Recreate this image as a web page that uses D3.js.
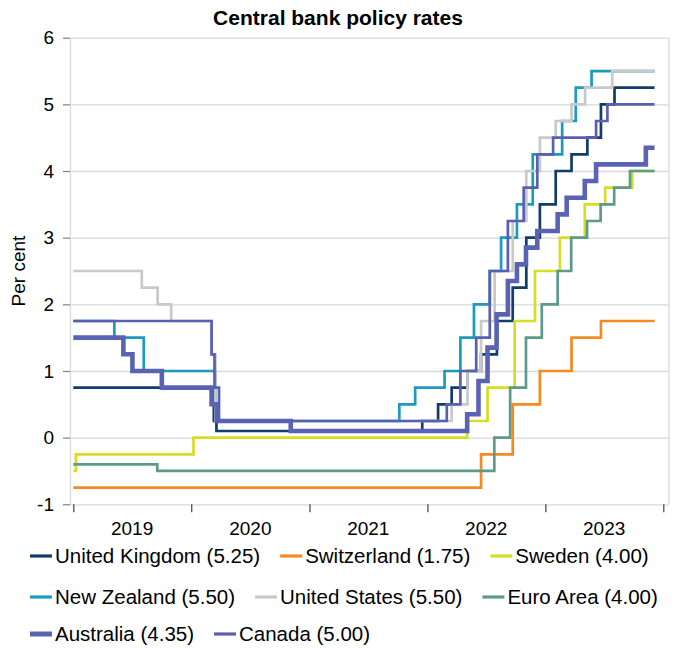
<html>
<head>
<meta charset="utf-8">
<script src="https://d3js.org/d3.v7.min.js"></script>
<style>
    body { margin: 0; background: #fff; }
    text { font-family: 'Liberation Sans', Arial, sans-serif; fill: #000; }
</style>
</head>
<body>
<div id="chart"></div>
<script>
    // policy rate steps: [date the new rate applies, rate in per cent]
    var unitedKingdom = [["2019-01-01",0.75],["2020-03-11",0.25],["2020-03-19",0.1],["2021-12-16",0.25],["2022-02-03",0.5],["2022-03-17",0.75],["2022-05-05",1.0],["2022-06-16",1.25],["2022-08-04",1.75],["2022-09-22",2.25],["2022-11-03",3.0],["2022-12-15",3.5],["2023-02-02",4.0],["2023-03-23",4.25],["2023-05-11",4.5],["2023-06-22",5.0],["2023-08-03",5.25],["2023-12-05",5.25]];
    var switzerland = [["2019-01-01",-0.75],["2022-06-16",-0.25],["2022-09-22",0.5],["2022-12-15",1.0],["2023-03-23",1.5],["2023-06-22",1.75],["2023-12-05",1.75]];
    var sweden = [["2019-01-01",-0.5],["2019-01-09",-0.25],["2020-01-08",0],["2022-05-04",0.25],["2022-07-06",0.75],["2022-09-28",1.75],["2022-11-30",2.5],["2023-02-15",3.0],["2023-05-03",3.5],["2023-07-05",3.75],["2023-09-27",4.0],["2023-12-05",4.0]];
    var newZealand = [["2019-01-01",1.75],["2019-05-08",1.5],["2019-08-07",1.0],["2020-03-16",0.25],["2021-10-06",0.5],["2021-11-24",0.75],["2022-02-23",1.0],["2022-04-13",1.5],["2022-05-25",2.0],["2022-07-13",2.5],["2022-08-17",3.0],["2022-10-05",3.5],["2022-11-23",4.25],["2023-02-22",4.75],["2023-04-05",5.25],["2023-05-24",5.5],["2023-12-05",5.5]];
    var unitedStates = [["2019-01-01",2.5],["2019-08-01",2.25],["2019-09-19",2.0],["2019-10-31",1.75],["2020-03-04",1.25],["2020-03-16",0.25],["2022-03-17",0.5],["2022-05-05",1.0],["2022-06-16",1.75],["2022-07-28",2.5],["2022-09-22",3.25],["2022-11-03",4.0],["2022-12-15",4.5],["2023-02-02",4.75],["2023-03-23",5.0],["2023-05-04",5.25],["2023-07-27",5.5],["2023-12-05",5.5]];
    var euroArea = [["2019-01-01",-0.4],["2019-09-18",-0.5],["2022-07-27",0],["2022-09-14",0.75],["2022-11-02",1.5],["2022-12-21",2.0],["2023-02-08",2.5],["2023-03-22",3.0],["2023-05-10",3.25],["2023-06-21",3.5],["2023-08-02",3.75],["2023-09-20",4.0],["2023-12-05",4.0]];
    var australia = [["2019-01-01",1.5],["2019-06-05",1.25],["2019-07-03",1.0],["2019-10-02",0.75],["2020-03-04",0.5],["2020-03-20",0.25],["2020-11-04",0.1],["2022-05-04",0.35],["2022-06-08",0.85],["2022-07-06",1.35],["2022-08-03",1.85],["2022-09-07",2.35],["2022-10-05",2.6],["2022-11-02",2.85],["2022-12-07",3.1],["2023-02-08",3.35],["2023-03-08",3.6],["2023-05-03",3.85],["2023-06-07",4.1],["2023-11-08",4.35],["2023-12-05",4.35]];
    var canada = [["2019-01-01",1.75],["2020-03-04",1.25],["2020-03-13",0.75],["2020-03-27",0.25],["2022-03-02",0.5],["2022-04-13",1.0],["2022-06-01",1.5],["2022-07-13",2.5],["2022-09-07",3.25],["2022-10-26",3.75],["2022-12-07",4.25],["2023-01-25",4.5],["2023-06-07",4.75],["2023-07-12",5.0],["2023-12-05",5.0]];

    var seriesNames = ["United Kingdom (5.25)","Switzerland (1.75)","Sweden (4.00)","New Zealand (5.50)","United States (5.50)","Euro Area (4.00)","Australia (4.35)","Canada (5.00)"];
    var seriesData = [unitedKingdom, switzerland, sweden, newZealand, unitedStates, euroArea, australia, canada];
    var yTicks = [-1,0,1,2,3,4,5,6];
    var yearLabels = ["2019","2020","2021","2022","2023"];

    var colors = ['#123c69','#f58a22','#d6de23','#1a9bbf','#c9c9c9','#5e9a8c','#5a62b4','#5a5fb0'];
    var widths = [2.7,2.7,2.7,2.7,2.7,2.7,4.6,2.7];

    var width = 678, height = 648;
    var plotLeft = 70, plotRight = 669, plotTop = 37.7, plotBottom = 504.3;
    var parse = d3.timeParse('%Y-%m-%d');

    var svg = d3.select('#chart').append('svg').attr('width', width).attr('height', height);

    var x = d3.scaleTime().domain([new Date(2019,0,1), new Date(2024,0,1)]).range([73.3, 663.3]);
    var y = d3.scaleLinear().domain([-1,6]).range([plotBottom, plotTop]);

    // gridlines
    var grid = svg.append('g').attr('transform', `translate(${plotLeft},0)`)
        .call(d3.axisLeft(y).tickValues(yTicks).tickSize(-(plotRight-plotLeft)).tickFormat(''));
    grid.select('.domain').remove();
    grid.selectAll('line').attr('stroke', '#d9d9d9').attr('stroke-width', 1.3);

    // y axis
    var yAxis = svg.append('g').attr('transform', `translate(${plotLeft},0)`)
        .call(d3.axisLeft(y).tickValues(yTicks).tickSize(7).tickPadding(9).tickSizeOuter(0).tickFormat(d => String(d)));
    yAxis.select('.domain').attr('stroke', '#d9d9d9').attr('stroke-width', 1.3);
    yAxis.selectAll('line').attr('stroke', '#808080').attr('stroke-width', 1.2);
    yAxis.selectAll('text').style('font-size', '19px').style('font-family', "'Liberation Sans', Arial, sans-serif");

    // right border
    svg.append('line').attr('x1', plotRight).attr('x2', plotRight).attr('y1', plotTop).attr('y2', plotBottom)
        .attr('stroke', '#d9d9d9').attr('stroke-width', 1.3);

    // x axis ticks at year boundaries
    var xAxis = svg.append('g').attr('transform', `translate(0,${plotBottom})`)
        .call(d3.axisBottom(x).ticks(d3.timeYear.every(1)).tickSize(8).tickFormat(''));
    xAxis.select('.domain').remove();
    xAxis.selectAll('line').attr('stroke', '#404040').attr('stroke-width', 1.2);

    svg.append('g').selectAll('text').data(yearLabels).enter().append('text')
        .attr('x', d => x(new Date(+d, 6, 2)))
        .attr('y', 535)
        .attr('text-anchor', 'middle')
        .style('font-size', '19px')
        .text(d => d);

    // y label
    svg.append('text')
        .attr('transform', `translate(25,${(plotTop+plotBottom)/2}) rotate(-90)`)
        .attr('text-anchor', 'middle')
        .style('font-size', '19px')
        .text('Per cent');

    // title
    svg.append('text')
        .attr('x', 338).attr('y', 25)
        .attr('text-anchor', 'middle')
        .style('font-size', '21px')
        .style('font-weight', 'bold')
        .text('Central bank policy rates');

    var line = d3.line()
        .x(d => x(parse(d[0])))
        .y(d => y(d[1]))
        .curve(d3.curveStepAfter);

    svg.append('g').selectAll('path').data(seriesData).enter().append('path')
        .attr('d', d => line(d))
        .attr('fill', 'none')
        .attr('stroke', (d,i) => colors[i])
        .attr('stroke-width', (d,i) => widths[i]);

    // legend, three items per row
    var rows = [[0,1,2],[3,4,5],[6,7]];
    var rowY = [563, 604, 641];
    var legend = svg.append('g');
    rows.forEach(function(row, r) {
        var cx = 30;
        row.forEach(function(i) {
            legend.append('line')
                .attr('x1', cx).attr('x2', cx + 22)
                .attr('y1', rowY[r] - 7).attr('y2', rowY[r] - 7)
                .attr('stroke', colors[i])
                .attr('stroke-width', i == 6 ? 5 : 3.2);
            var t = legend.append('text')
                .attr('x', cx + 25).attr('y', rowY[r])
                .style('font-size', '20.5px')
                .text(seriesNames[i]);
            cx = cx + 25 + t.node().getComputedTextLength() + 20;
        });
    });
</script>
</body>
</html>
